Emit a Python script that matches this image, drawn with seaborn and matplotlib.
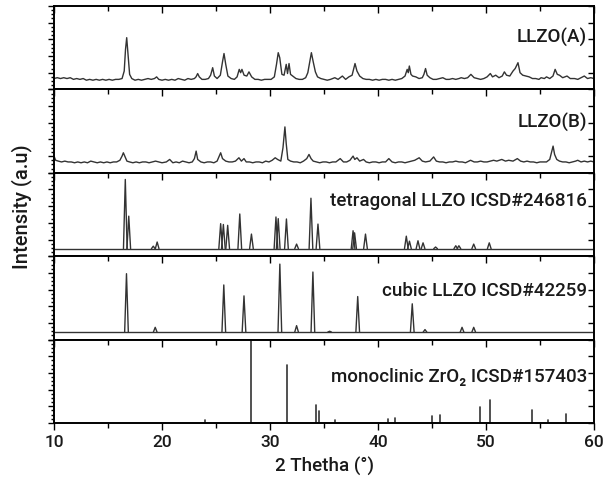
import numpy as np
import pandas as pd
import matplotlib
matplotlib.use("Agg")
import matplotlib.pyplot as plt
import seaborn as sns
from matplotlib.ticker import MultipleLocator, NullFormatter

# ---------------- data (panel units 0-100) ----------------
llzo_a = [(10.0,13),(10.3,14),(10.6,13),(10.9,14),(11.2,13),(11.5,14),(11.8,12),(12.1,13),(12.4,12),(12.7,13),
          (13.0,11),(13.3,12),(13.6,11),(13.9,12),(14.2,11),(14.5,12),(14.8,11),(15.1,12),(15.4,11),(15.7,12),
          (16.0,12),(16.3,13),(16.5,22),(16.62,48),(16.73,62),(16.85,42),(17.0,18),(17.2,13),(17.5,11),(17.8,12),
          (18.1,11),(18.4,12),(18.7,13),(19.0,12),(19.3,13),(19.5,15),(19.7,12),(20.0,11),(20.3,12),(20.6,11),
          (20.9,12),(21.2,11),(21.5,13),(21.8,12),(22.1,11),(22.4,13),(22.7,12),(23.0,13),(23.15,15),(23.3,19),
          (23.45,15),(23.7,12),(24.0,12),(24.3,13),(24.5,17),(24.69,26),(24.85,16),(25.1,13),(25.4,17),(25.6,33),
          (25.74,43),(25.9,30),(26.1,16),(26.4,13),(26.7,12),(26.95,15),(27.15,24),(27.28,20),(27.4,24),(27.6,17),
          (27.85,16),(28.05,21),(28.3,15),(28.6,12),(28.9,12),(29.2,11),(29.5,12),(29.8,12),(30.1,12),(30.4,15),
          (30.6,30),(30.76,44),(30.9,38),(31.1,18),(31.3,17),(31.5,30),(31.62,19),(31.76,31),(31.9,18),(32.1,16),
          (32.4,13),(32.7,12),(33.0,12),(33.3,14),(33.5,20),(33.7,35),(33.83,44),(34.0,33),(34.2,21),(34.4,15),
          (34.7,13),(35.0,12),(35.3,11),(35.6,12),(36.0,14),(36.3,12),(36.7,16),(37.0,12),(37.3,15),(37.6,17),
          (37.87,31),(38.05,22),(38.3,16),(38.6,13),(38.9,12),(39.2,12),(39.5,11),(39.8,12),(40.1,11),(40.4,12),
          (40.7,12),(41.0,11),(41.3,12),(41.6,11),(41.9,12),(42.2,13),(42.5,16),(42.7,24),(42.8,20),(42.9,28),
          (43.05,18),(43.2,16),(43.5,15),(43.8,13),(44.1,14),(44.25,18),(44.4,25),(44.55,17),(44.8,14),(45.1,12),
          (45.4,12),(45.7,13),(46.0,14),(46.3,12),(46.6,12),(46.9,13),(47.2,12),(47.5,13),(47.7,14),(48.0,13),
          (48.3,14),(48.6,18),(48.9,14),(49.2,13),(49.5,12),(49.8,13),(50.1,15),(50.4,19),(50.6,15),(50.9,17),
          (51.2,14),(51.5,16),(51.7,21),(51.9,17),(52.2,16),(52.5,22),(52.7,25),(52.96,32),(53.15,20),(53.4,17),
          (53.7,16),(54.0,15),(54.3,13),(54.6,13),(54.9,12),(55.1,14),(55.4,13),(55.6,15),(55.9,13),(56.2,16),
          (56.4,24),(56.6,18),(56.8,17),(57.1,14),(57.5,16),(57.8,13),(58.2,13),(58.5,12),(58.8,14),(59.1,16),
          (59.4,13),(59.7,14),(60.0,13)]

llzo_b = [(10.0,20),(10.15,15),(10.4,14),(10.7,13),(11.0,14),(11.3,13),(11.6,13),(11.9,12),(12.2,13),(12.5,12),
          (12.8,13),(13.1,12),(13.4,14),(13.7,13),(14.0,12),(14.3,13),(14.6,12),(14.9,13),(15.2,12),(15.5,13),
          (15.8,13),(16.1,15),(16.3,20),(16.42,24),(16.55,20),(16.75,14),(17.0,13),(17.3,12),(17.6,13),(17.9,12),
          (18.2,13),(18.5,13),(18.8,12),(19.1,13),(19.4,14),(19.7,13),(20.0,12),(20.4,13),(20.71,16),(21.0,12),
          (21.3,13),(21.6,12),(21.9,14),(22.2,13),(22.5,12),(22.8,13),(23.0,17),(23.16,26),(23.3,16),(23.6,13),
          (23.9,12),(24.2,13),(24.5,13),(24.8,12),(25.1,14),(25.3,20),(25.43,24),(25.6,17),(25.9,14),(26.2,13),
          (26.5,13),(26.8,14),(27.12,18),(27.35,14),(27.59,17),(27.8,13),(28.1,13),(28.4,12),(28.7,13),(29.0,13),
          (29.3,12),(29.6,14),(29.9,13),(30.2,15),(30.48,18),(30.7,16),(31.0,14),(31.2,30),(31.38,55),(31.5,35),
          (31.65,16),(31.9,14),(32.2,13),(32.5,13),(32.8,12),(33.1,14),(33.4,17),(33.61,22),(33.8,17),(34.0,14),
          (34.3,13),(34.6,12),(34.9,13),(35.2,13),(35.5,12),(35.8,13),(36.1,13),(36.5,17),(36.8,13),(37.1,13),
          (37.4,15),(37.69,20),(37.85,16),(38.05,18),(38.3,14),(38.66,16),(38.9,13),(39.2,12),(39.5,13),(39.8,13),
          (40.1,12),(40.4,13),(40.7,13),(41.0,17),(41.3,13),(41.6,12),(41.9,13),(42.2,13),(42.5,12),(42.8,13),
          (43.1,14),(43.4,15),(43.81,18),(44.1,14),(44.4,13),(44.8,14),(45.15,19),(45.4,14),(45.7,13),(46.0,13),
          (46.3,12),(46.6,13),(46.9,13),(47.2,14),(47.5,13),(47.8,13),(48.1,12),(48.57,15),(48.9,13),(49.2,13),
          (49.5,14),(49.8,13),(50.1,13),(50.4,14),(50.7,15),(51.0,14),(51.46,16),(51.8,14),(52.1,15),(52.5,14),
          (52.9,17),(53.2,14),(53.5,13),(53.8,14),(54.1,13),(54.4,13),(54.7,12),(55.0,13),(55.3,13),(55.6,13),
          (55.9,16),(56.05,24),(56.21,32),(56.35,22),(56.55,16),(56.8,14),(57.1,13),(57.4,13),(57.7,12),(58.0,13),
          (58.3,14),(58.49,15),(58.8,13),(59.1,14),(59.4,13),(59.7,14),(60.0,13)]

tet_pos = [16.6, 16.92, 19.19, 19.55, 25.43, 25.68, 26.08, 27.2, 28.28, 30.55, 30.76, 31.52, 32.46, 33.79,
           34.44, 37.69, 37.83, 38.84, 42.62, 42.91, 43.7, 44.17, 45.33, 47.2, 47.49, 48.86, 50.3]
tet_h = [92, 48, 12, 17, 39, 38, 37, 50.6, 26.5, 47, 45, 44.6, 14.5, 69.5,
         38.5, 30.5, 28, 26.5, 24, 18, 18.5, 16, 11, 12.5, 12.5, 14.5, 16]
tet_base = 9

cub_pos = [16.71, 19.37, 25.72, 27.59, 30.91, 32.46, 33.97, 35.52, 38.12, 43.17, 44.35, 47.78, 48.86]
cub_h = [79, 14.7, 65.5, 52.4, 90.5, 16.7, 81, 10, 51.6, 42.9, 12, 14.7, 14.7]
cub_base = 9

zro2_pos = [24.02, 28.28, 31.59, 34.26, 34.55, 36.03, 40.89, 41.61, 45.0, 45.72, 49.47, 50.41, 54.27, 55.78, 57.44]
zro2_h = [4, 98, 69.4, 22, 14, 4, 4.5, 5.6, 8, 9, 18.7, 27.4, 15, 4, 10.7]

labels = ["LLZO(A)", "LLZO(B)", "tetragonal LLZO ICSD#246816", "cubic LLZO ICSD#42259",
          "monoclinic ZrO\u2082 ICSD#157403"]
label_y = [0.63, 0.61, 0.67, 0.60, 0.56]
x_ticks = [10, 20, 30, 40, 50, 60]

# ---------------- helpers building tables from the arrays ----------------
def curve_df(pairs):
    return pd.DataFrame(pairs, columns=["two_theta", "intensity"]).assign(unit=0)

def peaks_df(pos, h, base, half):
    rows = [(10.0, base, -1), (60.0, base, -1)]
    for i, (p, v) in enumerate(zip(pos, h)):
        rows += [(p - half, base, i), (p, v, i), (p + half, base, i)]
    return pd.DataFrame(rows, columns=["two_theta", "intensity", "unit"])

def sticks_df(pos, h):
    rows = []
    for i, (p, v) in enumerate(zip(pos, h)):
        rows += [(p, 0, i), (p, v, i)]
    return pd.DataFrame(rows, columns=["two_theta", "intensity", "unit"])

tables = [curve_df(llzo_a), curve_df(llzo_b),
          peaks_df(tet_pos, tet_h, tet_base, 0.17),
          peaks_df(cub_pos, cub_h, cub_base, 0.17),
          sticks_df(zro2_pos, zro2_h)]

# ---------------- figure ----------------
sns.set_theme(style="white")
plt.rcParams["font.family"] = ["Roboto", "DejaVu Sans"]
plt.rcParams["axes.linewidth"] = 1.3

fig, axes = plt.subplots(5, 1, figsize=(6.09, 4.85), dpi=100, sharex=True)
fig.subplots_adjust(left=0.0887, right=0.9754, top=0.9856, bottom=0.1258, hspace=0)

LINE = "#333333"
TXT = "#1a1a1a"
for i, (ax, df) in enumerate(zip(axes, tables)):
    sns.lineplot(data=df, x="two_theta", y="intensity", units="unit", estimator=None,
                 sort=False, ax=ax, color=LINE, lw=1.0 if i < 4 else 1.2, legend=False)
    ax.set_xlim(10, 60)
    ax.set_ylim(0, 100)
    ax.set_xlabel("")
    ax.set_ylabel("")
    for s in ax.spines.values():
        s.set_color("black")
        s.set_linewidth(1.4)
    # left ticks outward
    ax.yaxis.set_major_locator(MultipleLocator(20))
    ax.yaxis.set_minor_locator(MultipleLocator(5))
    ax.yaxis.set_major_formatter(NullFormatter())
    ax.tick_params(axis="y", which="both", left=True, right=False, direction="out",
                   color="black", width=1.0)
    ax.tick_params(axis="y", which="major", length=4)
    ax.tick_params(axis="y", which="minor", length=2.5)
    # right ticks inward
    sy = ax.secondary_yaxis("right")
    sy.yaxis.set_major_locator(MultipleLocator(20))
    sy.yaxis.set_major_formatter(NullFormatter())
    sy.tick_params(axis="y", which="major", direction="in", length=4, width=1.0, color="black")
    sy.spines["right"].set_visible(False)
    # top ticks inward
    sx = ax.secondary_xaxis("top")
    sx.xaxis.set_major_locator(MultipleLocator(10))
    sx.xaxis.set_minor_locator(MultipleLocator(5))
    sx.xaxis.set_major_formatter(NullFormatter())
    sx.tick_params(axis="x", which="major", direction="in", length=5, width=1.0, color="black")
    sx.tick_params(axis="x", which="minor", direction="in", length=3.5, width=1.0, color="black")
    sx.spines["top"].set_visible(False)
    # bottom ticks
    ax.xaxis.set_major_locator(MultipleLocator(10))
    ax.xaxis.set_minor_locator(MultipleLocator(5))
    ax.tick_params(axis="x", which="both", bottom=(i == 4), top=False, direction="out",
                   color="black", width=1.0)
    ax.tick_params(axis="x", which="major", length=5)
    ax.tick_params(axis="x", which="minor", length=3.5)
    ax.text(0.987, label_y[i], labels[i], transform=ax.transAxes, ha="right", va="center",
            fontsize=13.5, fontweight="medium", color=TXT)

axes[-1].set_xticks(x_ticks)
axes[-1].set_xticklabels([str(t) for t in x_ticks], fontsize=12.5, fontweight="medium", color=TXT)
axes[-1].tick_params(axis="x", pad=3)
axes[-1].set_xlabel("2 Thetha (\u00b0)", fontsize=13.5, fontweight="medium", labelpad=5, color=TXT)
fig.text(0.036, 0.573, "Intensity (a.u)", rotation=90, ha="center", va="center",
         fontsize=14.5, fontweight="medium", color=TXT)

fig.savefig("out.png", dpi=100)
